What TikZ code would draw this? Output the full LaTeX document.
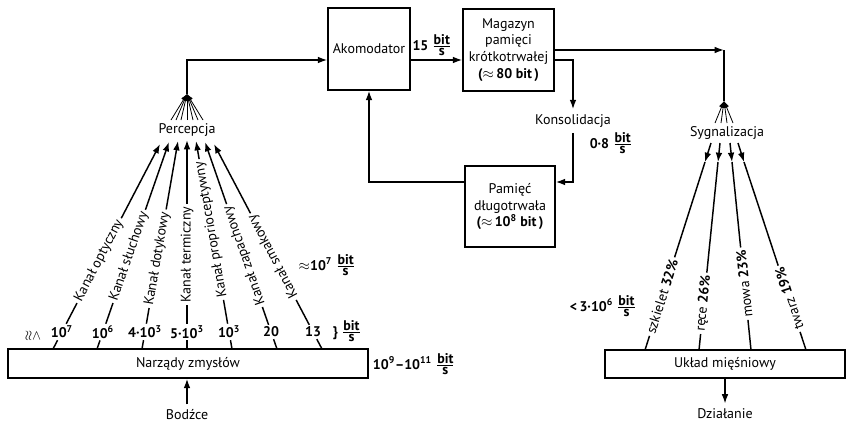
\documentclass[tikz,border=0pt]{standalone}
\usepackage{amsmath,amssymb}
\usepackage{fontspec}
\setmainfont{PT Sans}
\usetikzlibrary{arrows.meta}
\tikzset{every picture/.style={line width=1.1pt}}
\tikzset{
  blok/.style={draw, align=center, inner sep=1pt},
  kanal/.style={anchor=west, inner sep=1.5pt, rotate=#1},
  liczba/.style={inner sep=1pt, font=\bfseries},
  grot/.style={-{Latex[length=7pt,width=5pt]}},
  wachlarz/.style={line width=0.6pt, -{Latex[length=5pt,width=4pt]}},
}
\newcommand{\bps}{$\frac{\mbox{\bfseries bit}}{\mbox{\bfseries s}}$}

\begin{document}
\fontsize{10.5}{12.6}\selectfont
\begin{tikzpicture}[x=0.75pt,y=0.75pt,yscale=-1,xscale=1]
\useasboundingbox (0,0) rectangle (855,429);

%Flowchart: Process
\node[blok, minimum width=61.5pt, minimum height=61.5pt] (akom) at (369,49) {Akomodator};
%Flowchart: Process
\node[blok, minimum width=68.25pt, minimum height=61.5pt] (mag) at (508.5,50) {Magazyn\\pamięci\\krótkotrwałej\\\textbf{($\approx$\,80 bit\,)}};
%Flowchart: Process
\node[blok, minimum width=67.5pt, minimum height=60.75pt] (pam) at (510,206.5) {Pamięć\\długotrwała\\\textbf{($\approx$\,10\textsuperscript{8} bit\,)}};
%Flowchart: Process
\node[blok, minimum width=270pt, minimum height=21.75pt] (narz) at (188,363.5) {Narządy zmysłów};
%Flowchart: Process
\node[blok, minimum width=180pt, minimum height=21pt] (uklad) at (725,364) {Układ mięśniowy};

% Text Node
\node (perc) at (187,130) {Percepcja};
% Text Node
\node (syg) at (727,133) {Sygnalizacja};
% Text Node
\node (kons) at (573,121) {Konsolidacja};
% Text Node
\node (bodz) at (187,415) {Bodźce};
% Text Node
\node (dzial) at (725,414) {Działanie};

% Text Node
\node (r15) at (432,45) {\textbf{15} \bps};
% Text Node
\node (r08) at (611,143) {\textbf{0·8} \bps};
% Text Node
\node (r107) at (327,265) {$\approx$\textbf{10\textsuperscript{7}} \bps};
% Text Node
\node (rkan) at (347,331) {\textbf{\}} \bps};
% Text Node
\node (r109) at (414,364) {\textbf{10\textsuperscript{9}--10\textsuperscript{11}} \bps};
% Text Node
\node (r306) at (603,306) {\textbf{<\,3·10\textsuperscript{6}} \bps};
% Text Node
\node[rotate=-90] (znak) at (33,336) {$\lessapprox$};

%Straight Lines
\coordinate (h60) at (0,60);
\coordinate (h182) at (0,182);
\coordinate (k60) at (573,60);
\coordinate (rog) at (724,50);
\coordinate (wz1) at (187,94);
\coordinate (wz2) at (724,101);
\draw[grot] (akom.east |- h60) -- (mag.west |- h60);
\draw[grot] (mag.east |- k60) -| (kons.north);
\draw[grot] (kons.south) |- (pam.east |- h182);
\draw[grot] (pam.west |- h182) -| (akom.south);
\draw[grot] (wz1) |- (akom.west |- h60);
\draw[grot] (mag.east |- rog) -- (rog);
\draw (rog) -- (wz2);
\draw[grot] (bodz.north) -- (bodz.north |- narz.south);
\draw[grot] (uklad.south) -- (dzial.north);

%Fan above Percepcja
\draw[wachlarz] (171,120) -- (wz1);
\draw[wachlarz] (176,120) -- (wz1);
\draw[wachlarz] (181,120) -- (wz1);
\draw[wachlarz] (187,120) -- (wz1);
\draw[wachlarz] (193,120) -- (wz1);
\draw[wachlarz] (198,120) -- (wz1);
\draw[wachlarz] (203,120) -- (wz1);

%Fan above Sygnalizacja
\draw[wachlarz] (715,123) -- (wz2);
\draw[wachlarz] (721,123) -- (wz2);
\draw[wachlarz] (727,123) -- (wz2);
\draw[wachlarz] (733,123) -- (wz2);

%Channels
\coordinate (b1) at (53,349);  \coordinate (t1) at (160,144);
\coordinate (b2) at (97,349);  \coordinate (t2) at (169,142);
\coordinate (b3) at (142,349); \coordinate (t3) at (178,141);
\coordinate (b4) at (187,349); \coordinate (t4) at (187,140);
\coordinate (b5) at (232,349); \coordinate (t5) at (196,141);
\coordinate (b6) at (277,349); \coordinate (t6) at (205,142);
\coordinate (b7) at (322,349); \coordinate (t7) at (214,144);

\path (b1) -- node[liczba, pos=0.083] (n1) {10\textsuperscript{7}} node[kanal=62.4, pos=0.224] (c1) {Kanał optyczny} (t1);
\draw (b1) -- (n1);
\draw (n1) -- (c1);
\draw[grot] (c1) -- (t1);

\path (b2) -- node[liczba, pos=0.082] (n2) {10\textsuperscript{6}} node[kanal=70.8, pos=0.222] (c2) {Kanał słuchowy} (t2);
\draw (b2) -- (n2);
\draw (n2) -- (c2);
\draw[grot] (c2) -- (t2);

\path (b3) -- node[liczba, pos=0.082] (n3) {4·10\textsuperscript{3}} node[kanal=80.2, pos=0.197] (c3) {Kanał dotykowy} (t3);
\draw (b3) -- (n3);
\draw (n3) -- (c3);
\draw[grot] (c3) -- (t3);

\path (b4) -- node[liczba, pos=0.081] (n4) {5·10\textsuperscript{3}} node[kanal=90, pos=0.21] (c4) {Kanał termiczny} (t4);
\draw (b4) -- (n4);
\draw (n4) -- (c4);
\draw[grot] (c4) -- (t4);

\path (b5) -- node[liczba, pos=0.082] (n5) {10\textsuperscript{3}} node[kanal=99.8, pos=0.236] (c5) {Kanał proprioceptywny} (t5);
\draw (b5) -- (n5);
\draw (n5) -- (c5);
\draw[grot] (c5) -- (t5);

\path (b6) -- node[liczba, pos=0.082] (n6) {20} node[kanal=109.2, pos=0.203] (c6) {Kanał zapachowy} (t6);
\draw (b6) -- (n6);
\draw (n6) -- (c6);
\draw[grot] (c6) -- (t6);

\path (b7) -- node[liczba, pos=0.083] (n7) {13} node[kanal=117.8, pos=0.239] (c7) {Kanał smakowy} (t7);
\draw (b7) -- (n7);
\draw (n7) -- (c7);
\draw[grot] (c7) -- (t7);

%Outputs
\coordinate (s1) at (711,143); \coordinate (a1) at (705,162); \coordinate (u1) at (645,350);
\coordinate (s2) at (720,143); \coordinate (a2) at (718,162); \coordinate (u2) at (699,350);
\coordinate (s3) at (730,143); \coordinate (a3) at (732,162); \coordinate (u3) at (751,350);
\coordinate (s4) at (738,143); \coordinate (a4) at (744,162); \coordinate (u4) at (806,350);

\draw[grot] (s1) -- (a1);
\path (u1) -- node[kanal=72.3, pos=0.075] (o1) {szkielet \textbf{32\%}} (a1);
\draw (u1) -- (o1);
\draw (o1) -- (a1);

\draw[grot] (s2) -- (a2);
\path (u2) -- node[kanal=84.2, pos=0.085] (o2) {ręce \textbf{26\%}} (a2);
\draw (u2) -- (o2);
\draw (o2) -- (a2);

\draw[grot] (s3) -- (a3);
\path (u3) -- node[kanal=95.8, pos=0.16] (o3) {mowa \textbf{23\%}} (a3);
\draw (u3) -- (o3);
\draw (o3) -- (a3);

\draw[grot] (s4) -- (a4);
\path (u4) -- node[kanal=108.2, pos=0.096] (o4) {twarz \textbf{19\%}} (a4);
\draw (u4) -- (o4);
\draw (o4) -- (a4);

\end{tikzpicture}
\end{document}
